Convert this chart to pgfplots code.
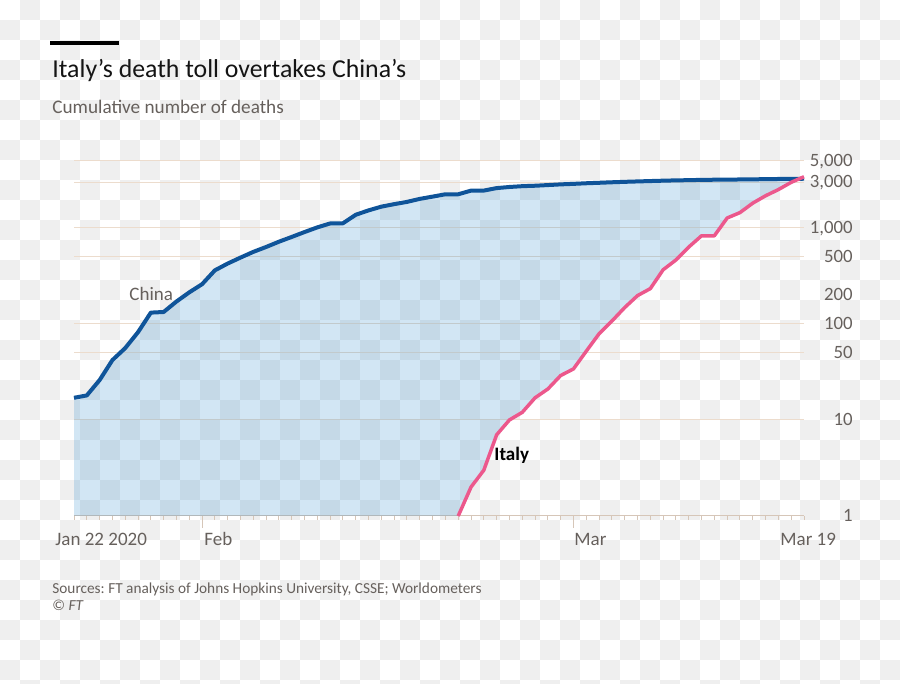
\documentclass[border=0pt]{standalone}
\usepackage{fontspec}
\setmainfont{Carlito}
\usepackage{pgfplots}
\pgfplotsset{compat=1.18}
\usepackage{pgfplotstable}
\frenchspacing

\definecolor{cbgrey}{RGB}{239,239,239}
\definecolor{ftgrey}{RGB}{102,96,92}
\definecolor{titlec}{RGB}{20,20,20}
\definecolor{gridc}{RGB}{236,220,205}
\definecolor{tickc}{RGB}{214,198,184}
\definecolor{chinablue}{RGB}{15,84,153}
\definecolor{italypink}{RGB}{236,88,140}
\definecolor{fillblue}{RGB}{30,130,200}

% day 0 = Jan 22 2020
\pgfplotstableread{
day deaths
0 17
1 18
2 26
3 42
4 56
5 82
6 131
7 133
8 171
9 213
10 259
11 361
12 425
13 490
14 562
15 632
16 717
17 804
18 904
19 1011
20 1111
21 1116
22 1368
23 1520
24 1662
25 1765
26 1863
27 2002
28 2114
29 2236
30 2236
31 2441
32 2443
33 2593
34 2663
35 2715
36 2744
37 2788
38 2835
39 2870
40 2912
41 2945
42 2981
43 3013
44 3042
45 3070
46 3097
47 3120
48 3136
49 3158
50 3169
51 3176
52 3189
53 3199
54 3213
55 3226
56 3237
57 3245
}\china

\pgfplotstableread{
day deaths
30 1
31 2
32 3
33 7
34 10
35 12
36 17
37 21
38 29
39 34
40 52
41 79
42 107
43 148
44 197
45 233
46 366
47 463
48 631
49 827
50 827
51 1266
52 1441
53 1809
54 2158
55 2503
56 2978
57 3405
}\italy

\begin{document}
\begin{tikzpicture}
\useasboundingbox (0,0) rectangle (450pt,342pt);
% transparency checkerboard of the reference image
\begin{scope}
\clip (0,0) rectangle (450pt,342pt);
\foreach \j in {0,...,34}{
  \foreach \i in {0,...,44}{
    \ifodd\numexpr\i+\j\relax
      \fill[cbgrey] (\i*10pt,342pt-\j*10pt) rectangle ++(10pt,-10pt);
    \fi
  }
}
\end{scope}

% header
\fill[black] (25pt,319.5pt) rectangle (59.5pt,321.5pt);
\node[anchor=base west, inner sep=0pt, font=\fontsize{12.9}{14}\selectfont, text=titlec] at (26pt,303.35pt) {Italy’s death toll overtakes China’s};
\node[anchor=base west, inner sep=0pt, font=\fontsize{9.6}{11}\selectfont, text=ftgrey] at (26pt,285.35pt) {Cumulative number of deaths};

\begin{axis}[
  at={(37pt,84pt)}, anchor=south west,
  scale only axis, width=365pt, height=177.65pt,
  xmin=0, xmax=57, ymode=log, ymin=1, ymax=5000,
  clip=false,
  axis x line*=bottom, axis y line*=right,
  x axis line style={draw=tickc, line width=0.5pt, -},
  y axis line style={draw=none, -},
  xtick={0,...,57}, xticklabels={},
  xtick style={draw=tickc, line width=0.5pt},
  tick align=outside, major tick length=2pt, minor tick length=0pt,
  extra x ticks={10,39}, extra x tick labels={},
  extra x tick style={major tick length=6pt},
  ytick={1,10,50,100,200,500,1000,3000,5000},
  yticklabels={1,10,50,100,200,500,{1,000},{3,000},{5,000}},
  ytick style={draw=none},
  yticklabel style={anchor=base east, inner sep=0pt, xshift=22.5pt, yshift=-2.9pt,
     font=\fontsize{9.4}{10}\selectfont, text=ftgrey},
  /pgf/number format/assume math mode=true,
  extra y ticks={10,50,100,500,1000,3000,5000}, extra y tick labels={},
  extra y tick style={grid=major, major grid style={draw=gridc, line width=0.5pt}, tick style={draw=none}},
]
\addplot[draw=none, fill=fillblue, fill opacity=0.2] coordinates {
 (0,17) (1,18) (2,26) (3,42) (4,56) (5,82) (6,131) (7,133) (8,171) (9,213)
 (10,259) (11,361) (12,425) (13,490) (14,562) (15,632) (16,717) (17,804) (18,904) (19,1011)
 (20,1111) (21,1116) (22,1368) (23,1520) (24,1662) (25,1765) (26,1863) (27,2002) (28,2114) (29,2236)
 (30,2236) (31,2441) (32,2443) (33,2593) (34,2663) (35,2715) (36,2744) (37,2788) (38,2835) (39,2870)
 (40,2912) (41,2945) (42,2981) (43,3013) (44,3042) (45,3070) (46,3097) (47,3120) (48,3136) (49,3158)
 (50,3169) (51,3176) (52,3189) (53,3199) (54,3213) (55,3226) (56,3237) (57,3245)
 (57,3405) (56,2978) (55,2503) (54,2158) (53,1809) (52,1441) (51,1266) (50,827) (49,827) (48,631)
 (47,463) (46,366) (45,233) (44,197) (43,148) (42,107) (41,79) (40,52) (39,34) (38,29)
 (37,21) (36,17) (35,12) (34,10) (33,7) (32,3) (31,2) (30,1) (0,1)
} -- cycle;
\addplot[chinablue, line width=2pt, line join=round] table[x=day, y=deaths] {\china};
\addplot[italypink, line width=1.75pt, line join=round] table[x=day, y=deaths] {\italy};

\node[anchor=base west, inner sep=0pt, font=\fontsize{9.5}{11}\selectfont, text=ftgrey] at (axis cs:0,1) [xshift=-9.5pt, yshift=-15pt] {Jan 22 2020};
\node[anchor=base west, inner sep=0pt, font=\fontsize{9.5}{11}\selectfont, text=ftgrey] at (axis cs:10,1) [xshift=1pt, yshift=-15pt] {Feb};
\node[anchor=base west, inner sep=0pt, font=\fontsize{9.5}{11}\selectfont, text=ftgrey] at (axis cs:39,1) [xshift=0.3pt, yshift=-15pt] {Mar};
\node[anchor=base west, inner sep=0pt, font=\fontsize{9.5}{11}\selectfont, text=ftgrey] at (axis cs:57,1) [xshift=-12pt, yshift=-15pt] {Mar 19};

\node[anchor=base west, inner sep=0pt, font=\fontsize{9.5}{11}\selectfont, text=ftgrey] at (axis cs:4.3,200) [yshift=-3pt] {China};
\node[anchor=base west, inner sep=0pt, font=\fontsize{9.5}{11}\bfseries\selectfont, text=black] at (axis cs:32.8,3.74) {Italy};
\end{axis}

% footer
\node[anchor=base west, inner sep=0pt, font=\fontsize{7.65}{9}\selectfont, text=ftgrey] at (26pt,45.35pt) {Sources: FT analysis of Johns Hopkins University, CSSE; Worldometers};
\node[anchor=base west, inner sep=0pt, font=\fontsize{7.65}{9}\selectfont, text=ftgrey] at (26pt,36.5pt) {© \textit{FT}};
\end{tikzpicture}
\end{document}
